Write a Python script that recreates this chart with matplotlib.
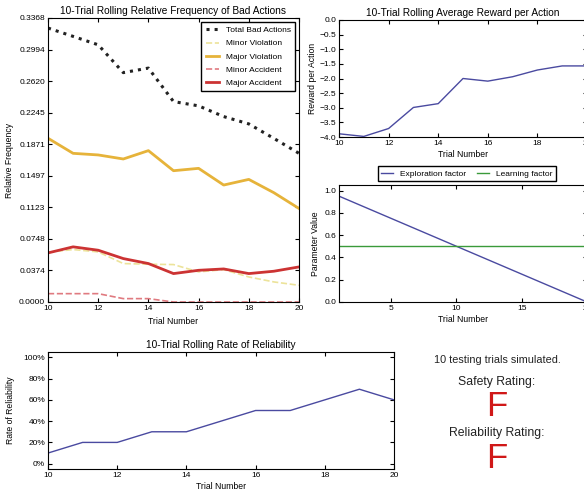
import matplotlib
matplotlib.use('Agg')
import matplotlib.pyplot as plt
import numpy as np
from matplotlib.ticker import PercentFormatter

plt.rcParams['font.family'] = ['Liberation Sans', 'DejaVu Sans']
plt.rcParams['xtick.direction'] = 'in'
plt.rcParams['ytick.direction'] = 'in'
plt.rcParams['xtick.top'] = True
plt.rcParams['ytick.right'] = True
plt.rcParams['axes.linewidth'] = 0.8

# rolling 10-trial data, trials 10..20
trials = [10, 11, 12, 13, 14, 15, 16, 17, 18, 19, 20]
total_bad = [0.3249, 0.3150, 0.3050, 0.2720, 0.2774, 0.2377, 0.2326, 0.2199, 0.2112, 0.1940, 0.1763]
minor_violation = [0.0590, 0.0622, 0.0594, 0.0456, 0.0448, 0.0444, 0.0357, 0.0384, 0.0297, 0.0238, 0.0198]
major_violation = [0.1942, 0.1763, 0.1744, 0.1696, 0.1795, 0.1557, 0.1585, 0.1387, 0.1454, 0.1296, 0.1109]
minor_accident = [0.0099, 0.0099, 0.0099, 0.0040, 0.0040, 0.0, 0.0, 0.0, 0.0, 0.0, 0.0]
major_accident = [0.0582, 0.0654, 0.0614, 0.0515, 0.0456, 0.0337, 0.0376, 0.0392, 0.0337, 0.0365, 0.0416]

reward = [-3.89, -3.98, -3.71, -2.99, -2.86, -2.00, -2.09, -1.94, -1.71, -1.57, -1.57]
reliability = [10, 20, 20, 30, 30, 40, 50, 50, 60, 70, 60]

# training parameters per trial
param_trials = list(range(1, 21))
exploration = [0.95, 0.90, 0.85, 0.80, 0.75, 0.70, 0.65, 0.60, 0.55, 0.50,
               0.45, 0.40, 0.35, 0.30, 0.25, 0.20, 0.15, 0.10, 0.05, 0.00]
learning = [0.5] * 20

n_tests = 10
safety_grade = 'F'
reliability_grade = 'F'

W, H = 584, 495
fig = plt.figure(figsize=(W / 100, H / 100), dpi=100)

def rect(l, t, r, b):
    return [l / W, 1 - b / H, (r - l) / W, (b - t) / H]

tfs = 7.3
lfs = 6.2
kfs = 6

# bad actions
ax = fig.add_axes(rect(48, 18, 299, 302))
ax.plot(trials, total_bad, color='#222222', linestyle=':', linewidth=2.2, label='Total Bad Actions')
ax.plot(trials, minor_violation, color='#ece39a', linestyle='--', linewidth=1.2, label='Minor Violation')
ax.plot(trials, major_violation, color='#e6b33a', linewidth=2, label='Major Violation')
ax.plot(trials, minor_accident, color='#e07a80', linestyle='--', linewidth=1.2, label='Minor Accident')
ax.plot(trials, major_accident, color='#cc3333', linewidth=2, label='Major Accident')
ymax = 0.3368
ax.set_ylim(0, ymax)
ax.set_yticks(np.linspace(0, ymax, 10))
ax.set_yticklabels(['%.4f' % v for v in np.linspace(0, ymax, 10)])
ax.set_xlim(10, 20)
ax.set_xticks([10, 12, 14, 16, 18, 20])
ax.set_title('10-Trial Rolling Relative Frequency of Bad Actions', fontsize=tfs, pad=3)
ax.set_ylabel('Relative Frequency', fontsize=lfs, labelpad=4)
ax.set_xlabel('Trial Number', fontsize=lfs)
ax.tick_params(labelsize=kfs, length=3, pad=2)
ax.legend(loc='upper right', fontsize=kfs, handlelength=1.6, borderpad=0.5,
          labelspacing=0.65, fancybox=False, edgecolor='black', framealpha=1)

# reward per action
ax2 = fig.add_axes(rect(339, 20, 587, 137))
ax2.plot(trials, reward, color='#4a4aa0', linewidth=1)
ax2.set_xlim(10, 20)
ax2.set_ylim(-4.0, 0.0)
ax2.set_xticks([10, 12, 14, 16, 18, 20])
ax2.set_yticks(np.arange(-4.0, 0.01, 0.5))
ax2.set_title('10-Trial Rolling Average Reward per Action', fontsize=tfs, pad=3)
ax2.set_ylabel('Reward per Action', fontsize=lfs, labelpad=2)
ax2.set_xlabel('Trial Number', fontsize=lfs, labelpad=2)
ax2.tick_params(labelsize=kfs, length=3, pad=2)

# parameters
ax3 = fig.add_axes(rect(339, 185, 587, 302))
ax3.plot(param_trials, exploration, color='#4a4aa0', linewidth=1, label='Exploration factor')
ax3.plot(param_trials, learning, color='#3a9a3a', linewidth=1, label='Learning factor')
ax3.set_xlim(1, 20)
ax3.set_ylim(0, 1.05)
ax3.set_xticks([5, 10, 15, 20])
ax3.set_yticks([0.0, 0.2, 0.4, 0.6, 0.8, 1.0])
ax3.set_ylabel('Parameter Value', fontsize=lfs, labelpad=3)
ax3.set_xlabel('Trial Number', fontsize=lfs, labelpad=2)
ax3.tick_params(labelsize=kfs, length=3, pad=2)
ax3.legend(loc='lower left', bbox_to_anchor=(0.14, 1.0), ncol=2, fontsize=kfs,
           handlelength=1.4, borderpad=0.4, columnspacing=1.4, fancybox=False,
           edgecolor='black', framealpha=1)

# reliability
ax4 = fig.add_axes(rect(48, 352, 394, 469))
ax4.plot(trials, reliability, color='#4a4aa0', linewidth=1)
ax4.set_xlim(10, 20)
ax4.set_ylim(-5, 105)
ax4.set_xticks([10, 12, 14, 16, 18, 20])
ax4.set_yticks([0, 20, 40, 60, 80, 100])
ax4.yaxis.set_major_formatter(PercentFormatter(decimals=0))
ax4.set_title('10-Trial Rolling Rate of Reliability', fontsize=tfs, pad=3)
ax4.set_ylabel('Rate of Reliability', fontsize=lfs, labelpad=6)
ax4.set_xlabel('Trial Number', fontsize=lfs, labelpad=2)
ax4.tick_params(labelsize=kfs, length=3, pad=2)

# ratings text
cx = 497 / W
fig.text(cx, 1 - 360 / H, '%d testing trials simulated.' % n_tests, ha='center', va='center', fontsize=7.8, color='#222222')
fig.text(cx, 1 - 382 / H, 'Safety Rating:', ha='center', va='center', fontsize=8.8, color='#222222')
fig.text(cx, 1 - 406 / H, safety_grade, ha='center', va='center', fontsize=25, color='#d01818')
fig.text(cx, 1 - 433 / H, 'Reliability Rating:', ha='center', va='center', fontsize=8.8, color='#222222')
fig.text(cx, 1 - 458 / H, reliability_grade, ha='center', va='center', fontsize=25, color='#d01818')

fig.savefig('out.png', dpi=100)
